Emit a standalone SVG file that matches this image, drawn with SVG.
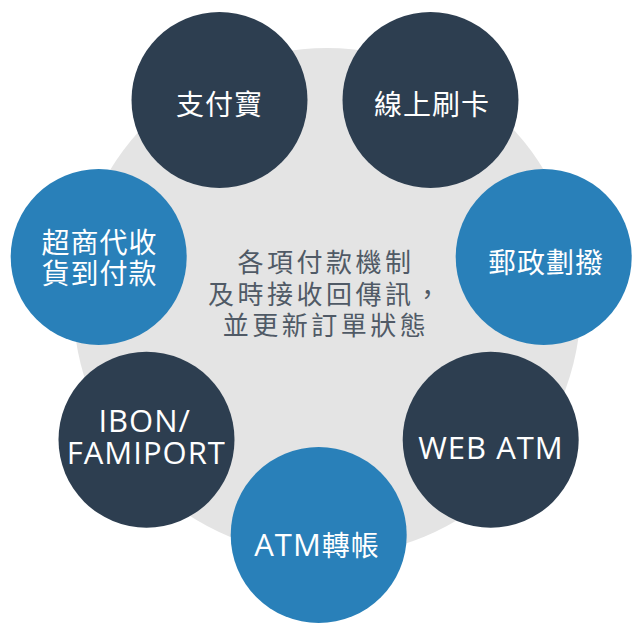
<svg xmlns="http://www.w3.org/2000/svg" width="640" height="636" viewBox="0 0 640 636">
<style>
.dark{fill:#2d3e50}
.blue{fill:#2980b9}
.lbl{fill:#ffffff;font-family:"Noto Sans CJK TC","Noto Sans",sans-serif;font-size:28px;text-anchor:middle;letter-spacing:1px}
.lat{fill:#ffffff;font-family:"Open Sans","Noto Sans",sans-serif;font-size:31px;text-anchor:middle;letter-spacing:1px}
.ctr{fill:#505a66;font-family:"Noto Sans CJK TC","Noto Sans",sans-serif;font-size:26px;text-anchor:middle;letter-spacing:3.5px}
</style>
<rect width="640" height="636" fill="#ffffff"/>
<g id="hub">
<circle cx="327" cy="302" r="254" fill="#e4e4e4"/>
<text class="ctr" x="326" y="271.5">各項付款機制</text>
<text class="ctr" x="326" y="304">及時接收回傳訊，</text>
<text class="ctr" x="326" y="335">並更新訂單狀態</text>
</g>
<g id="connectors"></g>
<g id="alipay">
<circle class="dark" cx="219.5" cy="100" r="88"/>
<text class="lbl" x="219.5" y="114.5">支付寶</text>
</g>
<g id="online-card">
<circle class="dark" cx="430.5" cy="100" r="88"/>
<text class="lbl" x="432" y="114.5">線上刷卡</text>
</g>
<g id="postal">
<circle class="blue" cx="543.7" cy="257" r="88"/>
<text class="lbl" x="546" y="273">郵政劃撥</text>
</g>
<g id="webatm">
<circle class="dark" cx="490.7" cy="439.7" r="88"/>
<text class="lat" x="491" y="459.3">WEB ATM</text>
</g>
<g id="atm-transfer">
<circle class="blue" cx="318.7" cy="535" r="88"/>
<text class="lat" x="317" y="556">ATM<tspan style="font-family:'Noto Sans CJK TC',sans-serif;font-size:28px;letter-spacing:1px">轉帳</tspan></text>
</g>
<g id="ibon">
<circle class="dark" cx="146.5" cy="439.7" r="88"/>
<text class="lat" x="144.7" y="432">IBON/</text>
<text class="lat" x="146.3" y="463.7">FAMIPORT</text>
</g>
<g id="cvs">
<circle class="blue" cx="98.7" cy="257" r="88"/>
<text class="lbl" x="99.5" y="252.5">超商代收</text>
<text class="lbl" x="99.5" y="284">貨到付款</text>
</g>
</svg>
